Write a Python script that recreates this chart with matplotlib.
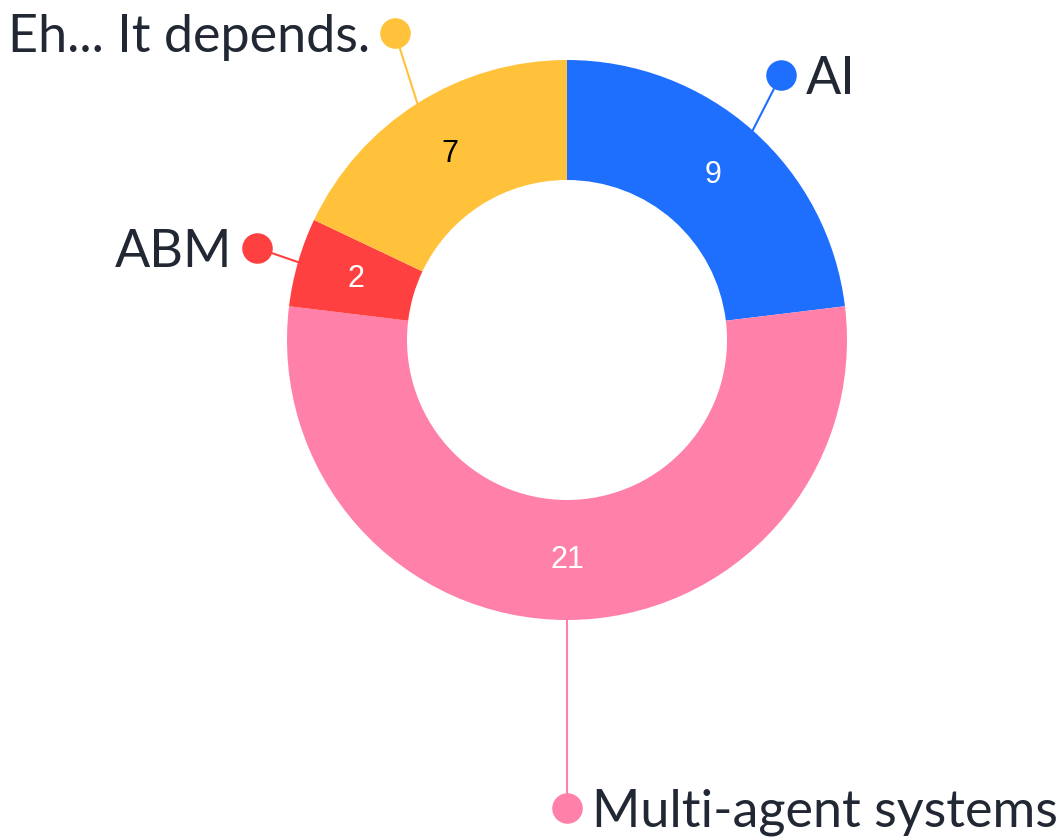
import numpy as np
import matplotlib.pyplot as plt

labels = ['AI', 'Multi-agent systems', 'ABM', 'Eh... It depends.']
values = [9, 21, 2, 7]
colors = ['#1f6fff', '#ff80a8', '#ff4040', '#ffc23a']
value_colors = ['white', 'white', 'white', 'black']

W, H = 1061, 840
cx, cy = 567, H - 340
r_out, r_in = 280, 160

# where the dot of each outside label sits (pixel coords, y down) and text side
dots = {'AI': (781, 75, 'left'),
        'Multi-agent systems': (567, 808, 'left'),
        'ABM': (257, 248, 'right'),
        'Eh... It depends.': (395, 33, 'right')}

plt.rcParams['font.family'] = ['Lato', 'DejaVu Sans']
fig = plt.figure(figsize=(W / 100, H / 100), dpi=100)
ax = fig.add_axes([0, 0, 1, 1])

wedges, _ = ax.pie(values, colors=colors, startangle=90, counterclock=False,
                   radius=r_out, center=(cx, cy), frame=True,
                   wedgeprops=dict(width=r_out - r_in, linewidth=0))
ax.set_xlim(0, W)
ax.set_ylim(0, H)
ax.set_aspect('equal')
ax.axis('off')

r_mid = (r_out + r_in) / 2
for w, lab, v, tc, col in zip(wedges, labels, values, value_colors, colors):
    ang = np.deg2rad((w.theta1 + w.theta2) / 2)
    ax.text(cx + r_mid * np.cos(ang), cy + r_mid * np.sin(ang), str(v),
            ha='center', va='center', fontsize=22, color=tc,
            family=['Liberation Sans', 'DejaVu Sans'])
    dx, dy, side = dots[lab]
    dy = H - dy
    ex, ey = cx + r_out * np.cos(ang), cy + r_out * np.sin(ang)
    ax.plot([ex, dx], [ey, dy], color=col, lw=1.5, zorder=1)
    ax.plot(dx, dy, 'o', ms=22, color=col, mew=0, zorder=3)
    off = 25 if side == 'left' else -25
    ax.text(dx + off, dy, lab, ha=side, va='center_baseline', fontsize=37.5,
            color='#222833')

fig.savefig('out.png', dpi=100)
